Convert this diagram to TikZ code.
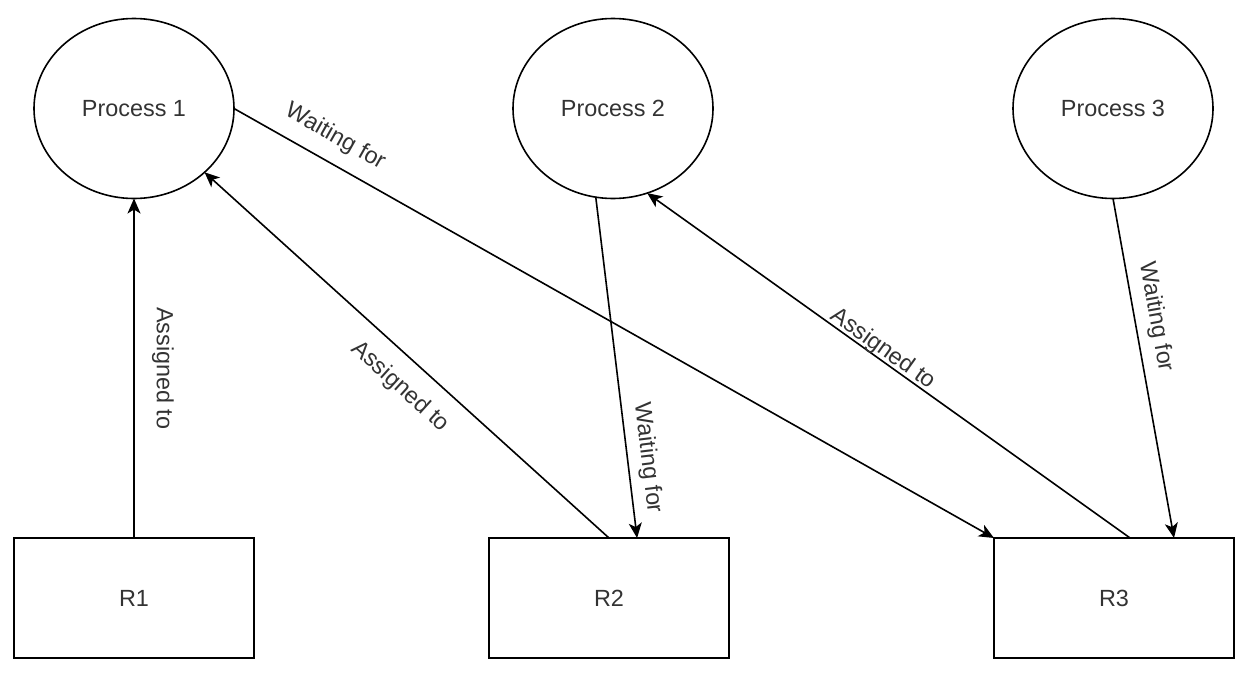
\documentclass[tikz,border=0pt]{standalone}
\usepackage{fontspec}
\setmainfont{Liberation Sans}
\usetikzlibrary{calc,arrows.meta,shapes.geometric}
\definecolor{txtgray}{HTML}{333333}
\tikzset{
	proc/.style={draw, ellipse, line width=1.6pt, minimum width=200pt, minimum height=180pt, inner sep=0pt, outer sep=0pt},
	res/.style={draw, rectangle, line width=1.6pt, minimum width=240pt, minimum height=120pt, inner sep=0pt, outer sep=0pt},
	arr/.style={line width=1.6pt, -{Stealth[length=15pt, width=13pt, inset=4pt]}},
	lbl/.style={text=txtgray},
}

\begin{document}
\begin{tikzpicture}[x=1pt, y=-1pt, every node/.style={font=\fontsize{23.4pt}{28pt}\selectfont, text=txtgray}]
		%%%%% START %%%%%
		\useasboundingbox (0,0) rectangle (1252,680);
		
		\node[proc] (P1) at (134, 108.5) {Process 1};
		\node[proc] (P2) at (613, 108.5) {Process 2};
		\node[proc] (P3) at (1113, 108.5) {Process 3};
		
		\node[res] (R1) at (134, 598) {R1};
		\node[res] (R2) at (609, 598) {R2};
		\node[res] (R3) at (1114, 598) {R3};
		
		\draw[arr] (R1.north) -- (P1.south) node[lbl, pos=0.5, rotate=-90, yshift=29pt] {Assigned to};
		\draw[arr] (R2.north) -- (P1) node[lbl, pos=0.47, rotate=-42, yshift=-28pt] {Assigned to};
		\draw[arr] (P1.east) -- (R3.north west) node[lbl, pos=0.117, rotate=-29.5, yshift=25pt] {Waiting for};
		
		\draw[arr] (P2.-101) -- ($(R2.north west)!0.617!(R2.north east)$) node[lbl, pos=0.772, rotate=-83.1, yshift=20pt] {Waiting for};
		\draw[arr] ($(R3.north west)!0.567!(R3.north east)$) -- (P2.-68) node[lbl, pos=0.524, rotate=-35.5, yshift=10pt] {Assigned to};
		\draw[arr] (P3.south) -- ($(R3.north west)!0.75!(R3.north east)$) node[lbl, pos=0.36, rotate=-79.8, yshift=21pt] {Waiting for};
		
		%%%%% END %%%%%
	\end{tikzpicture}
\end{document}
